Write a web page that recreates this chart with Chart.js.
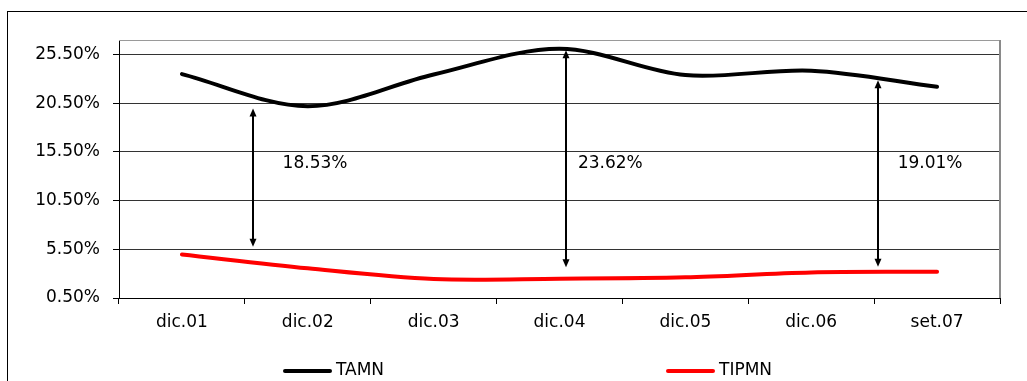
<!DOCTYPE html>
<html><head><meta charset="utf-8">
<script src="https://cdn.jsdelivr.net/npm/chart.js@4.4.0/dist/chart.umd.min.js"></script>
<style>
html,body{margin:0;padding:0;background:#fff;overflow:hidden;width:1027px;height:381px;}
#frame{position:absolute;left:7px;top:11px;width:1100px;height:420px;border:1px solid #000;box-sizing:border-box;}
#wrap{position:absolute;left:8px;top:12px;width:1060px;height:375px;}
</style></head><body>
<div id="frame"></div>
<div id="wrap"><canvas id="c" width="1060" height="375"></canvas></div>
<script>
const categories = ['dic.01','dic.02','dic.03','dic.04','dic.05','dic.06','set.07'];
const tamn  = [23.50, 20.20, 23.45, 26.10, 23.40, 23.85, 22.20];
const tipmn = [4.97, 3.55, 2.45, 2.48, 2.62, 3.13, 3.19];
const seriesNames = ['TAMN','TIPMN'];
const yTicks = [0.5, 5.5, 10.5, 15.5, 20.5, 25.5];
const yMin = 0.5, yMax = 27;
const spreadLabels = ['18.53%','23.62%','19.01%'];
const spreadX = [0.567, 3.05, 5.53];
const spreadTop = [19.96, 25.94, 22.86];
const spreadBottom = [5.76, 3.65, 3.71];
const spreadTextX = [0.80, 3.146, 5.687];
const spreadTextY = 14.35;

const FONT = "'DejaVu Sans', sans-serif";
const FS = 17;

const framePlugin = {
  id: 'frameP',
  beforeDatasetsDraw(chart) {
    const {ctx, chartArea: a} = chart;
    ctx.save();
    ctx.strokeStyle = '#9a9a9a';
    ctx.lineWidth = 1;
    ctx.beginPath();
    ctx.moveTo(a.left, a.top + 0.5);
    ctx.lineTo(a.right, a.top + 0.5);
    ctx.stroke();
    ctx.lineWidth = 2;
    ctx.strokeStyle = '#8a8a8a';
    ctx.beginPath();
    ctx.moveTo(a.right, a.top);
    ctx.lineTo(a.right, a.bottom);
    ctx.stroke();
    ctx.restore();
  }
};

const spreadPlugin = {
  id: 'spreadP',
  afterDatasetsDraw(chart) {
    const {ctx, scales: {x, y}} = chart;
    ctx.save();
    ctx.strokeStyle = '#000';
    ctx.fillStyle = '#000';
    ctx.lineWidth = 2;
    for (let i = 0; i < spreadX.length; i++) {
      const px = Math.round(x.getPixelForValue(spreadX[i]));
      const t = y.getPixelForValue(spreadTop[i]);
      const b = y.getPixelForValue(spreadBottom[i]);
      ctx.beginPath();
      ctx.moveTo(px, t + 6);
      ctx.lineTo(px, b - 6);
      ctx.stroke();
      ctx.beginPath();
      ctx.moveTo(px, t);
      ctx.lineTo(px - 3.5, t + 8);
      ctx.lineTo(px + 3.5, t + 8);
      ctx.closePath();
      ctx.fill();
      ctx.beginPath();
      ctx.moveTo(px, b);
      ctx.lineTo(px - 3.5, b - 8);
      ctx.lineTo(px + 3.5, b - 8);
      ctx.closePath();
      ctx.fill();
      ctx.font = FS + 'px ' + FONT;
      ctx.textAlign = 'left';
      ctx.textBaseline = 'middle';
      ctx.fillText(spreadLabels[i], x.getPixelForValue(spreadTextX[i]), y.getPixelForValue(spreadTextY));
    }
    ctx.restore();
  }
};

const legendPlugin = {
  id: 'legendP',
  afterDraw(chart) {
    const {ctx, chartArea: a} = chart;
    const offsets = [166, 549];
    ctx.save();
    ctx.font = FS + 'px ' + FONT;
    ctx.textAlign = 'left';
    ctx.textBaseline = 'middle';
    chart.data.datasets.forEach((ds, i) => {
      const x0 = a.left + offsets[i];
      const yy = a.bottom + 73;
      ctx.strokeStyle = ds.borderColor;
      ctx.lineWidth = 4;
      ctx.lineCap = 'round';
      ctx.beginPath();
      ctx.moveTo(x0, yy);
      ctx.lineTo(x0 + 45, yy);
      ctx.stroke();
      ctx.fillStyle = '#000';
      ctx.fillText(ds.label, x0 + 51, yy);
    });
    ctx.restore();
  }
};

new Chart(document.getElementById('c'), {
  type: 'line',
  data: {
    labels: categories,
    datasets: [
      {label: seriesNames[0], data: tamn, borderColor: '#000000', backgroundColor: '#000000',
       borderWidth: 4, pointRadius: 0, tension: 0.33, borderCapStyle: 'round', borderJoinStyle: 'round', fill: false},
      {label: seriesNames[1], data: tipmn, borderColor: '#ff0000', backgroundColor: '#ff0000',
       borderWidth: 4, pointRadius: 0, tension: 0.33, borderCapStyle: 'round', borderJoinStyle: 'round', fill: false}
    ]
  },
  options: {
    responsive: false,
    animation: false,
    devicePixelRatio: 1,
    layout: {padding: {left: 0, right: 68, top: 28, bottom: 39}},
    plugins: {legend: {display: false}, title: {display: false}, tooltip: {enabled: false}},
    scales: {
      x: {
        type: 'category',
        offset: true,
        grid: {offset: true, drawOnChartArea: false, drawTicks: true, tickLength: 6, color: '#000', tickColor: '#000'},
        border: {display: true, color: '#000', width: 1},
        ticks: {color: '#000', font: {family: FONT, size: FS}, padding: 8, maxRotation: 0, autoSkip: false},
        afterFit(s) { s.height = 50; }
      },
      y: {
        min: yMin, max: yMax,
        grid: {color: '#333', lineWidth: 1, tickLength: 6, tickColor: '#000'},
        border: {display: true, color: '#000', width: 1},
        ticks: {color: '#000', font: {family: FONT, size: FS}, padding: 13,
                callback: v => v.toFixed(2) + '%'},
        afterBuildTicks(s) { s.ticks = yTicks.map(v => ({value: v})); },
        afterFit(s) { s.width = 111; }
      }
    }
  },
  plugins: [framePlugin, spreadPlugin, legendPlugin]
});
</script>
</body></html>
